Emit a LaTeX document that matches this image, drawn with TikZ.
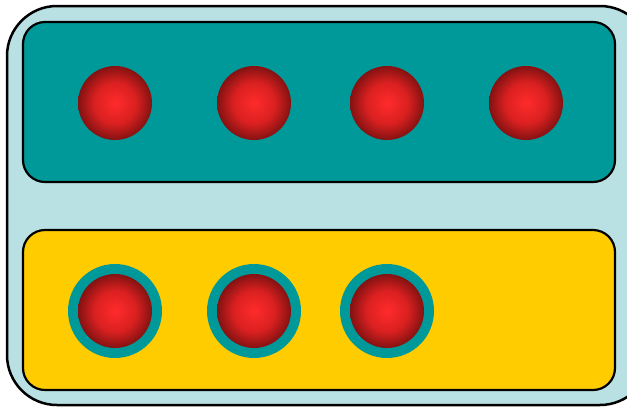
\documentclass[tikz,border=0pt]{standalone}
\definecolor{teal1}{HTML}{009999}
\definecolor{lightblue}{HTML}{B9E0E3}
\definecolor{yellow1}{HTML}{FFCC00}
\definecolor{ballc}{HTML}{FF2B2B}
\definecolor{ballm}{HTML}{DA2020}
\definecolor{balle}{HTML}{841212}
\pgfdeclareradialshading{ballshade}{\pgfpoint{0bp}{0bp}}{color(0bp)=(ballc); color(14bp)=(ballm); color(25bp)=(balle); color(50bp)=(balle)}
\begin{document}
\begin{tikzpicture}[x=1pt,y=-1pt,
  panel/.style={draw=black, line width=2.2pt, rounded corners=22pt},
  ball/.style={circle, minimum size=74pt, inner sep=0pt, shading=ballshade},
  ring/.style={circle, minimum size=94pt, inner sep=0pt, fill=teal1}]
\useasboundingbox (0,0) rectangle (627,408);
\begin{scope}
\clip (0,0) rectangle (627,408);
\draw[fill=lightblue, line width=2.5pt, rounded corners=50pt] (7,6) rectangle (650,405);
\end{scope}
\draw[panel, fill=teal1] (23,22) rectangle (615,182);
\draw[panel, fill=yellow1] (23,230) rectangle (615,390);
\node[ball] (t1) at (115,103) {};
\node[ball] (t2) at (254,103) {};
\node[ball] (t3) at (387,103) {};
\node[ball] (t4) at (526,103) {};
\node[ring] (r1) at (115,311) {};
\node[ring] (r2) at (254,311) {};
\node[ring] (r3) at (387,311) {};
\node[ball] (b1) at (r1) {};
\node[ball] (b2) at (r2) {};
\node[ball] (b3) at (r3) {};
\end{tikzpicture}
\end{document}
